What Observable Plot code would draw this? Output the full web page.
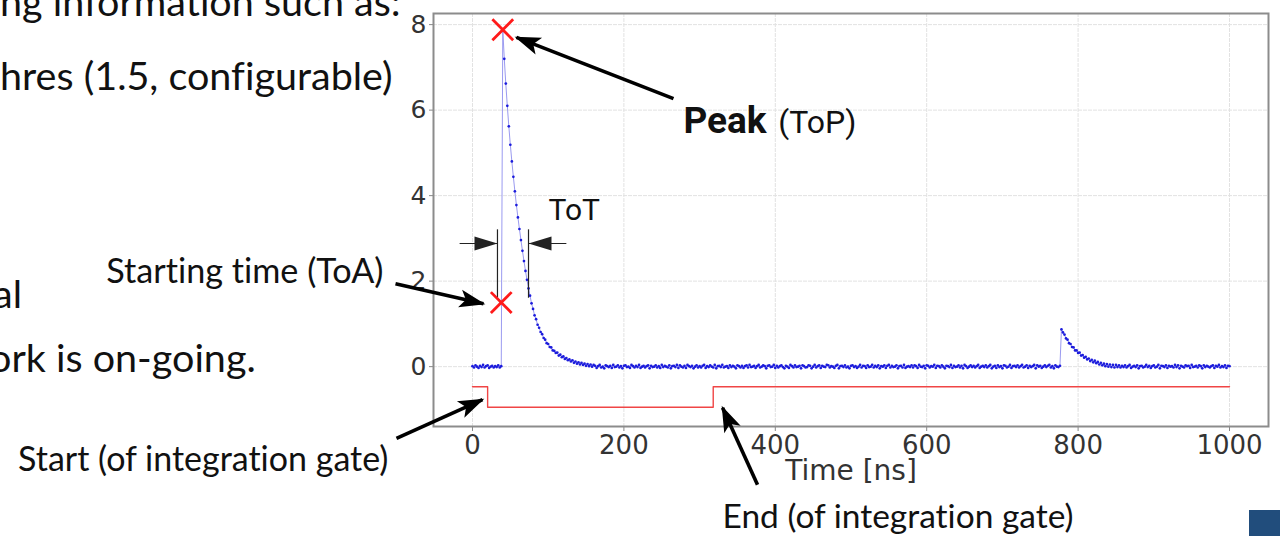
<!DOCTYPE html>
<html>
<head>
<meta charset="utf-8">
<script src="https://cdn.jsdelivr.net/npm/d3@7"></script>
<script src="https://cdn.jsdelivr.net/npm/@observablehq/plot@0.6"></script>
<style>
  html, body { margin: 0; padding: 0; background: #fff; overflow: hidden; }
  #slide { position: relative; width: 1280px; height: 536px; overflow: hidden; background: #fff; }
  #slide > svg { position: absolute; left: 0; top: 0; font-variant-ligatures: none; font-feature-settings: "liga" 0; }
  .corner { position: absolute; left: 1249px; top: 510px; width: 31px; height: 26px; background: #214d7c; }
</style>
</head>
<body>
<div id="slide"><div class="corner"></div></div>
<script>
// ---- Waveform: amplitude sampled every 2 ns from 0 to 1000 ns ----
const sampleStep = 2; // ns
const baselineBefore = [0.01,-0.02,0.03,0.00,-0.03,0.02,-0.01,0.04,-0.02,0.01,0.03,-0.03,0.00,0.02,-0.02,0.01,-0.01,0.03,-0.02,0.01];
const mainPulse = [
  7.88,7.20,6.62,6.10,5.62,5.19,4.80,4.44,4.10,3.78,3.49,3.22,2.96,2.71,2.47,2.24,2.03,1.83,1.66,1.48,
  1.35,1.20,1.11,0.98,0.91,0.81,0.76,0.67,0.63,0.55,0.53,0.46,0.45,0.38,0.37,0.32,0.33,0.26,0.28,0.22,
  0.24,0.18,0.20,0.15,0.17,0.12,0.15,0.09,0.12,0.07,0.10,0.05,0.09,0.04,0.07,0.02,0.06,0.01,0.05,0.00,0.04
];
const baselineMid = [
  0.02,-0.03,0.01,0.04,-0.02,0.00,-0.04,0.03,0.01,-0.01,0.02,-0.03,0.04,-0.01,
  0.00,0.03,-0.02,0.01,-0.04,0.02,0.03,-0.01,0.00,-0.03,0.04,0.01,-0.02,0.02,
  -0.01,0.04,-0.03,0.00,0.02,-0.02,0.01,0.03,-0.04,0.02,-0.01,0.00,0.03,-0.02,
  0.01,-0.03,0.04,-0.01,0.02,0.00,-0.02,0.03,-0.04,0.01,0.02,-0.01,0.04,-0.03,
  0.03,0.00,-0.02,0.02,-0.03,0.04,0.01,-0.01,0.02,-0.04,0.00,0.03,-0.02,0.01,
  -0.02,0.02,0.04,-0.03,0.01,-0.01,0.03,0.00,-0.02,0.04,-0.04,0.01,0.02,-0.01,
  0.04,-0.02,0.00,0.01,-0.03,0.03,-0.01,0.02,0.00,-0.04,0.03,0.01,-0.02,0.02,
  -0.03,0.01,0.03,-0.02,0.04,-0.01,0.00,0.02,-0.03,0.01,0.04,-0.02,0.00,0.03,
  0.01,-0.04,0.02,0.03,-0.01,0.00,0.04,-0.03,0.02,-0.02,0.01,0.03,-0.01,-0.04,
  0.02,0.00,-0.03,0.04,0.01,-0.02,0.03,-0.01,0.00,0.02,-0.04,0.03,0.01,-0.02,
  -0.01,0.03,0.02,-0.04,0.00,0.04,-0.02,0.01,0.03,-0.03,0.02,0.00,-0.01,0.04,
  0.03,-0.02,0.01,0.00,-0.03,0.02,0.04,-0.04,0.01,0.02,-0.01,0.03,-0.02,0.00,
  -0.04,0.02,0.03,-0.01,0.01,-0.03,0.00,0.04,-0.02,0.02,0.01,-0.03,0.03,-0.01,
  0.00,0.04,-0.02,0.02,-0.01,0.03,-0.04,0.01,0.00,0.03,-0.03,0.02,0.04,-0.02,
  0.02,-0.01,0.00,0.03,-0.04,0.01,0.02,-0.02,0.04,-0.03,0.00,0.01,-0.01,0.03,
  -0.02,0.03,0.01,-0.03,0.04,0.00,-0.01,0.02,-0.04,0.03,0.02,-0.02,0.01,0.00,
  0.04,-0.03,0.02,0.01,-0.02,0.03,0.00,-0.04,0.02,0.01,-0.01,0.04,-0.03,0.02,
  -0.01,0.00,0.03,-0.02,0.02,-0.04,0.04,0.01,-0.03,0.00,0.03,-0.01,0.02,-0.02,
  0.01,0.04,-0.03,0.00,0.02,-0.01,0.03,-0.02,0.01,0.04,-0.04,0.00,0.02,-0.03,
  0.03,-0.01,0.01,-0.04,0.03,0.02,-0.02,0.00,0.04,-0.03,0.01,0.02,-0.01,0.03,
  -0.02,0.01,0.04,-0.02,0.00,0.03,-0.03,0.02,-0.01,0.01,0.04,-0.04,0.03,0.00,
  0.02,-0.03,0.00,0.03,-0.01,0.02,0.04,-0.02,0.01,-0.04,0.03,0.00,-0.01,0.02
];
const secondPulse = [
  0.87,0.80,0.75,0.66,0.63,0.55,0.53,0.46,0.45,0.38,0.38,0.32,0.33,0.26,0.27,0.21,0.23,0.17,0.19,0.13,
  0.16,0.10,0.14,0.08,0.11,0.05,0.09,0.03,0.07,0.01,0.06,0.00,0.05,-0.01,0.04,-0.02,0.04,-0.01,0.03,-0.02,
  0.02,-0.01
];
const baselineAfter = [
  0.03,-0.02,0.01,0.04,-0.03,0.00,0.02,-0.01,0.03,-0.04,0.01,0.02,-0.02,0.00,
  0.04,-0.01,0.02,-0.03,0.01,0.03,-0.02,0.00,0.04,-0.04,0.02,0.01,-0.01,0.03,
  -0.03,0.02,0.00,0.01,-0.02,0.04,-0.01,0.03,-0.04,0.02,0.00,-0.02,0.03,0.01,
  0.02,-0.03,0.04,-0.01,0.00,0.02,-0.02,0.03,0.01,-0.04,0.03,-0.01,0.02,0.00,
  -0.02,0.01,0.03,-0.03,0.02,0.00,0.04,-0.02,0.01,-0.01,0.03,-0.03,0.02,0.01
];
const signal = [...baselineBefore, ...mainPulse, ...baselineMid, ...secondPulse, ...baselineAfter];

// ---- Integration gate (logic level) ----
const gateTime  = [0, 20, 20, 318, 318, 1000];
const gateLevel = [-0.47, -0.47, -0.95, -0.95, -0.47, -0.47];

// ---- Extracted features: ToA (threshold crossing) and peak ----
const featureTime  = [38, 40];
const featureValue = [1.5, 7.88];

// ---- ToT bracket ----
const totEdges = [33, 74];
const totBarY = 2.88;
const totBarExtent = [-17, 124];
const totTickSpan = [1.6, 3.2];

// ---- Callout arrows (tail -> head), in ns / amplitude ----
const arrowTail = [[265.5, 6.27], [-101.7, 1.94], [-100.4, -1.68], [376.5, -2.76]];
const arrowHead = [[58.1, 7.70], [14.5, 1.47], [13.2, -0.77], [330.3, -0.96]];

// ---- Labels ----
const peakWord = "Peak";
const peakTag = "(ToP)";
const totLabel = "ToT";
const toaLabel = "Starting time (ToA)";
const gateStartLabel = "Start (of integration gate)";
const gateEndLabel = "End (of integration gate)";
const xLabel = "Time [ns]";
const xTicks = [0, 200, 400, 600, 800, 1000];
const yTicks = [0, 2, 4, 6, 8];

// Slide body text running along the left edge
const bodyLines = ["ng information such as:", "hres (1.5, configurable)", "al", "ork is on-going."];

const wave = signal.map((v, i) => ({t: i * sampleStep, v}));
const gate = gateTime.map((t, i) => ({t, v: gateLevel[i]}));
const features = featureTime.map((t, i) => ({t, v: featureValue[i]}));
const arrows = arrowTail.map((a, i) => ({x1: a[0], y1: a[1], x2: arrowHead[i][0], y2: arrowHead[i][1]}));

// Filled arrowhead marker, sized in pixels
function filledHead(len, half, notch, tip) {
  return (color, context) => {
    const doc = (context && context.document) || document;
    const ns = "http://www.w3.org/2000/svg";
    const m = doc.createElementNS(ns, "marker");
    m.setAttribute("viewBox", `${-len - 2} ${-half - 2} ${len + tip + 4} ${2 * half + 4}`);
    m.setAttribute("markerWidth", len + tip + 4);
    m.setAttribute("markerHeight", 2 * half + 4);
    m.setAttribute("refX", 0);
    m.setAttribute("refY", 0);
    m.setAttribute("orient", "auto");
    m.setAttribute("markerUnits", "userSpaceOnUse");
    const p = doc.createElementNS(ns, "path");
    p.setAttribute("d", `M${tip},0L${-len},${-half}L${-len + notch},0L${-len},${half}Z`);
    p.setAttribute("fill", color);
    p.setAttribute("stroke", "none");
    m.appendChild(p);
    return m;
  };
}

const labelFont = "Lato, 'Noto Sans', sans-serif";
const calloutFont = "Roboto, 'Noto Sans', sans-serif";

const chart = Plot.plot({
  width: 1280,
  height: 536,
  marginLeft: 433,
  marginRight: 12,
  marginTop: 13,
  marginBottom: 110,
  style: {fontFamily: "'DejaVu Sans', sans-serif", fontSize: "25px", color: "#333", background: "transparent", overflow: "visible"},
  x: {domain: [-51.5, 1051.5]},
  y: {domain: [-1.40, 8.26]},
  marks: [
    Plot.gridX(xTicks, {stroke: "#e2e2e2", strokeOpacity: 1, strokeDasharray: "4,1"}),
    Plot.gridY(yTicks, {stroke: "#e2e2e2", strokeOpacity: 1, strokeDasharray: "4,1"}),
    Plot.axisX(xTicks, {tickSize: 5, tickPadding: 4, stroke: "#888", fill: "#333", label: null, fontSize: 26, tickFormat: d3.format("d")}),
    Plot.axisY(yTicks, {tickSize: 4, tickPadding: 3, stroke: "#888", fill: "#333", label: null, fontSize: 25, tickFormat: d3.format("d")}),
    Plot.text([xLabel], {frameAnchor: "bottom", dy: 53, lineAnchor: "bottom", fontSize: 28, fill: "#333"}),
    Plot.frame({stroke: "#8c8c8c", strokeWidth: 2}),
    // gate
    Plot.line(gate, {x: "t", y: "v", stroke: "#f04545", strokeWidth: 1.4}),
    // waveform: thin connecting line plus sample points
    Plot.line(wave, {x: "t", y: "v", stroke: "#9a9af0", strokeWidth: 1}),
    Plot.dot(wave, {x: "t", y: "v", r: 1.35, fill: "#1c1cdc", stroke: null}),
    // ToT bracket
    Plot.ruleX(totEdges, {y1: totTickSpan[0], y2: totTickSpan[1], stroke: "#222", strokeWidth: 1.2}),
    Plot.link([{x1: totBarExtent[0], x2: totEdges[0]}, {x1: totBarExtent[1], x2: totEdges[1]}],
      {x1: "x1", x2: "x2", y1: totBarY, y2: totBarY, stroke: "#222", strokeWidth: 1.2, markerEnd: filledHead(23, 7, 0, 0)}),
    // feature markers
    Plot.dot(features, {x: "t", y: "v", symbol: "times", r: 9.5, stroke: "#ff1a1a", strokeWidth: 2.8}),
    // callout arrows
    Plot.link(arrows, {x1: "x1", y1: "y1", x2: "x2", y2: "y2", stroke: "#000", strokeWidth: 3.6, markerEnd: filledHead(24, 9, 6, 2)}),
    // callout labels
    Plot.text([peakWord], {x: 278.7, y: 5.47, textAnchor: "start", lineAnchor: "bottom", fontFamily: calloutFont, fontWeight: 700, fontSize: 37, fill: "#111"}),
    Plot.text([peakTag], {x: 404, y: 5.47, textAnchor: "start", lineAnchor: "bottom", fontFamily: calloutFont, fontSize: 32, fill: "#111"}),
    Plot.text([totLabel], {x: 100.4, y: 3.44, textAnchor: "start", lineAnchor: "bottom", fontFamily: calloutFont, fontSize: 30, fill: "#111"}),
    Plot.text([toaLabel], {x: -117.6, y: 1.96, textAnchor: "end", lineAnchor: "bottom", fontFamily: labelFont, fontSize: 34.2, fill: "#111"}),
    Plot.text([gateStartLabel], {x: -111, y: -2.43, textAnchor: "end", lineAnchor: "bottom", fontFamily: labelFont, fontSize: 34, fill: "#111"}),
    Plot.text([gateEndLabel], {x: 330.3, y: -3.77, textAnchor: "start", lineAnchor: "bottom", fontFamily: labelFont, fontSize: 33.5, fill: "#111"})
  ]
});

const slide = document.getElementById("slide");
slide.appendChild(chart);

// Slide body text layer (lines continue past the left edge of the visible area)
const bodyLayer = d3.create("svg").attr("width", 1280).attr("height", 536);
const bodyBaselines = [16, 90, 308, 372];
const bodyIndent = [0, 0, -7, -11];
bodyLayer.selectAll("text").data(bodyLines).join("text")
  .attr("x", (d, i) => bodyIndent[i])
  .attr("y", (d, i) => bodyBaselines[i])
  .attr("font-family", labelFont)
  .attr("font-size", 39.5)
  .attr("fill", "#111")
  .text(d => d);
slide.appendChild(bodyLayer.node());
</script>
</body>
</html>
